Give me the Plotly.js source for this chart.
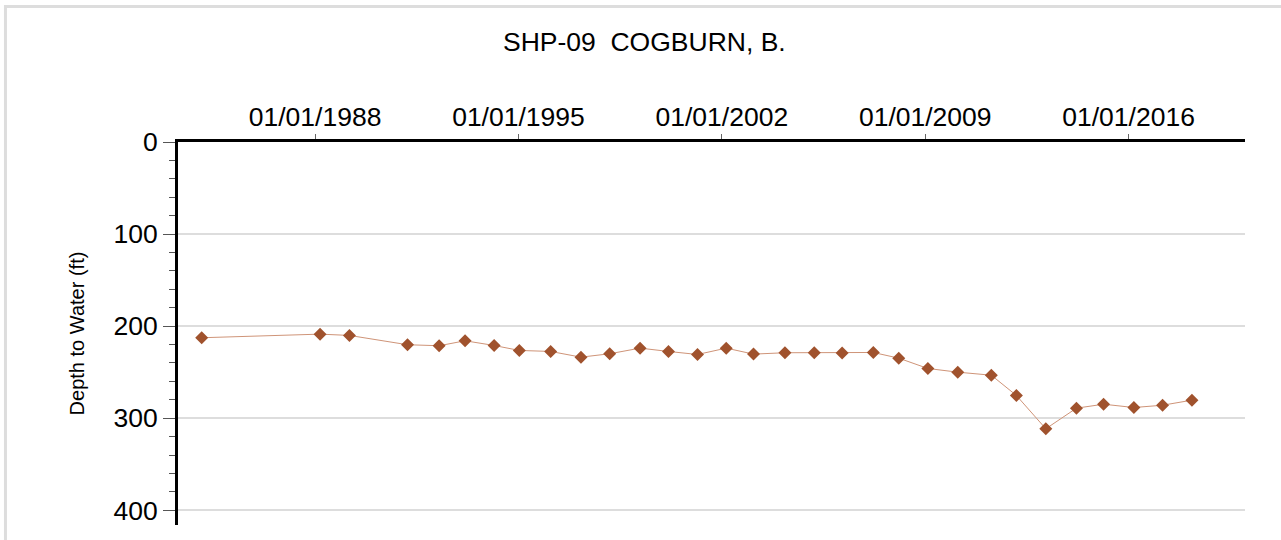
<!DOCTYPE html>
<html>
<head>
<meta charset="utf-8">
<script src="https://cdn.plot.ly/plotly-3.0.1.min.js"></script>
<style>
  html, body { margin: 0; padding: 0; background: #fff; }
  #chart { width: 1281px; height: 540px; }
</style>
</head>
<body>
<div id="chart"></div>
<script>
const chartTitle = "SHP-09\u00a0\u00a0COGBURN, B.";
const yTitle = "Depth to Water (ft)";

const measureDates = [
  "1984-02-06", "1988-03-04", "1989-03-08", "1991-03-08", "1992-04-09",
  "1993-03-01", "1994-03-01", "1995-01-12", "1996-02-10", "1997-02-25",
  "1998-02-21", "1999-03-10", "2000-03-01", "2001-03-01", "2002-02-25",
  "2003-02-03", "2004-03-04", "2005-03-08", "2006-02-21", "2007-03-20",
  "2008-02-03", "2009-02-03", "2010-02-14", "2011-04-12", "2012-02-21",
  "2013-02-25", "2014-03-17", "2015-02-21", "2016-03-08", "2017-03-04",
  "2018-03-08"
];

const depthToWater = [
  212.6, 208.7, 210.1, 220.2, 221.3,
  215.9, 221.0, 226.4, 227.5, 233.7,
  230.0, 223.9, 227.5, 230.8, 223.9,
  230.4, 228.9, 228.9, 229.3, 228.6,
  234.8, 246.0, 250.0, 253.3, 275.3,
  311.5, 289.1, 284.8, 288.4, 285.9,
  280.4
];

const trace = {
  x: measureDates,
  y: depthToWater,
  type: "scatter",
  mode: "lines+markers",
  line: { color: "#cf9478", width: 1 },
  marker: { symbol: "diamond", size: 10, color: "#a0522d" },
  showlegend: false,
  hoverinfo: "x+y"
};

const layout = {
  width: 1281,
  height: 540,
  paper_bgcolor: "#ffffff",
  plot_bgcolor: "#ffffff",
  margin: { l: 178, r: 36, t: 142, b: 15, pad: 0 },
  font: { family: "Liberation Sans, Arial, sans-serif", color: "#000" },
  title: {
    text: chartTitle,
    font: { size: 26.5, color: "#000", family: "Liberation Sans, Arial, sans-serif" },
    x: 0.503, xanchor: "center",
    y: 0.922, yanchor: "middle"
  },
  xaxis: {
    type: "date",
    side: "top",
    range: ["1983-04-14", "2020-01-04"],
    tick0: "1988-01-01",
    dtick: "M84",
    tickformat: "%m/%d/%Y",
    ticks: "outside",
    ticklen: 5,
    tickwidth: 1,
    tickcolor: "#666",
    tickfont: { size: 26.5, color: "#000" },
    ticklabelstandoff: -3,
    showgrid: false,
    zeroline: false,
    showline: true,
    linecolor: "#000",
    linewidth: 3,
    fixedrange: true
  },
  yaxis: {
    range: [416, 0],
    tick0: 0,
    dtick: 100,
    ticks: "outside",
    ticklen: 12,
    tickwidth: 1,
    tickcolor: "#555",
    tickfont: { size: 26.5, color: "#000" },
    ticklabelstandoff: 0,
    minor: { dtick: 20, ticks: "outside", ticklen: 6, tickcolor: "#555", tickwidth: 1, showgrid: false },
    showgrid: true,
    gridcolor: "#dddddd",
    gridwidth: 2,
    zeroline: false,
    showline: true,
    linecolor: "#000",
    linewidth: 3,
    title: { text: yTitle, font: { size: 20, color: "#000" }, standoff: 24 },
    fixedrange: true
  },
  shapes: [{
    type: "rect",
    xref: "paper", yref: "paper",
    x0: -0.1617, x1: 1.1,
    y0: -0.08, y1: 1.3538,
    line: { color: "#dddddd", width: 3 },
    fillcolor: "rgba(0,0,0,0)",
    layer: "below"
  }]
};

Plotly.newPlot("chart", [trace], layout, { staticPlot: true, displayModeBar: false });
</script>
</body>
</html>
